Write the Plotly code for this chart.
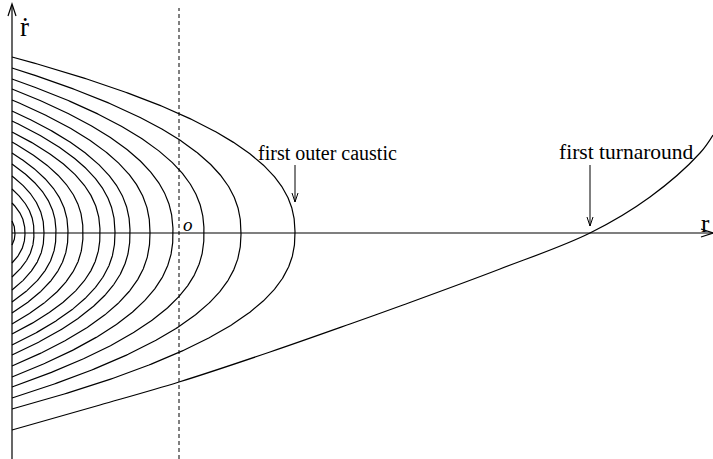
import numpy as np
import plotly.graph_objects as go

# Phase-space windings: apex radius and peak |r-dot| of each closed arc (arb. units)
arc_apex_r = [283, 229, 192, 161, 138, 118, 103, 88, 71, 56, 44, 32, 22, 13, 3]
arc_vmax = [176, 165, 154, 144, 133, 122, 112, 101, 91, 80, 69, 57, 44, 30, 12]
arc_power = 2.3

# Outermost branch, running through the first turnaround
turn_r = [0, 88, 167, 258, 338, 391, 488, 578, 638, 688, 701]
turn_v = [-197, -172, -149, -119, -91, -72, -36, 0, 36, 80, 98]

# Marker positions
dashed_r = 167
caustic_r = arc_apex_r[0]
turnaround_r = 578

R_MIN, R_MAX = -12, 701
V_MIN, V_MAX = -226, 233

LINE = dict(color="black", width=1.2)
SERIF = "Liberation Serif"

fig = go.Figure()

u = np.linspace(-1, 1, 401)
for a, h in zip(arc_apex_r, arc_vmax):
    r = a * (1 - np.abs(u) ** arc_power)
    fig.add_trace(go.Scatter(x=r, y=h * u, mode="lines", line=LINE,
                             hoverinfo="skip", showlegend=False))

fig.add_trace(go.Scatter(x=turn_r, y=turn_v, mode="lines",
                         line=dict(color="black", width=1.2, shape="spline", smoothing=1.0),
                         hoverinfo="skip", showlegend=False))

shapes = []
# coordinate axes
shapes.append(dict(type="line", x0=0, x1=R_MAX + 5, y0=0, y1=0, line=LINE))
shapes.append(dict(type="line", x0=0, x1=0, y0=V_MIN, y1=V_MAX - 5, line=LINE))
# open arrowheads on the axes
shapes.append(dict(type="path", path=f"M -4 {V_MAX-16} L 0 {V_MAX-4} L 4 {V_MAX-16}",
                   line=LINE))
shapes.append(dict(type="path", path=f"M {R_MAX-12} 4 L {R_MAX} 0 L {R_MAX-12} -4",
                   line=LINE))
# dashed reference radius
shapes.append(dict(type="line", x0=dashed_r, x1=dashed_r, y0=V_MIN, y1=V_MAX - 8,
                   line=dict(color="black", width=1, dash="4px,3px")))


def pointer(x, y_from, y_to):
    out = [dict(type="line", x0=x, x1=x, y0=y_from, y1=y_to,
                line=dict(color="black", width=1))]
    out.append(dict(type="path",
                    path=f"M {x-3} {y_to+9} L {x} {y_to} L {x+3} {y_to+9}",
                    line=dict(color="black", width=1)))
    return out


shapes += pointer(caustic_r, 68, 31)
shapes += pointer(turnaround_r, 68, 7)

annotations = [
    dict(x=315, y=80, text="first outer caustic", showarrow=False,
         font=dict(family=SERIF, size=20, color="black")),
    dict(x=614, y=81, text="first turnaround", showarrow=False,
         font=dict(family=SERIF, size=21.5, color="black")),
    dict(x=12, y=206, text="\u1e59", showarrow=False,
         font=dict(family=SERIF, size=27, color="black")),
    dict(x=693, y=10, text="r", showarrow=False,
         font=dict(family=SERIF, size=25, color="black")),
    dict(x=176, y=9, text="<i>o</i>", showarrow=False,
         font=dict(family=SERIF, size=19, color="black")),
]

fig.update_layout(
    width=713, height=459,
    margin=dict(l=0, r=0, t=0, b=0),
    paper_bgcolor="white", plot_bgcolor="white",
    xaxis=dict(range=[R_MIN, R_MAX], visible=False, fixedrange=True),
    yaxis=dict(range=[V_MIN, V_MAX], visible=False, fixedrange=True),
    shapes=shapes, annotations=annotations,
    showlegend=False,
)

fig.write_html("out.html")
